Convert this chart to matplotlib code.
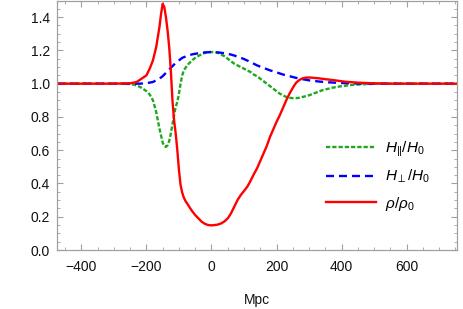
import matplotlib
matplotlib.use("Agg")
import matplotlib.pyplot as plt
from matplotlib.ticker import MultipleLocator

plt.rcParams['font.family'] = ['Liberation Sans', 'DejaVu Sans']
plt.rcParams['mathtext.fontset'] = 'custom'
plt.rcParams['mathtext.rm'] = 'Liberation Sans'
plt.rcParams['mathtext.it'] = 'Liberation Sans:italic'

# ---- data ----
x_rho = [-475, -300, -250, -230, -215, -200, -190, -180, -170, -160, -155, -150, -145, -140,
         -135, -130, -125, -120, -115, -110, -105, -100, -95, -90, -85, -80, -70, -60, -50,
         -40, -30, -20, -10, 0, 10, 20, 30, 40, 50, 60, 70, 80, 90, 100, 110, 120, 130, 140,
         150, 160, 170, 180, 190, 200, 210, 220, 230, 240, 250, 260, 270, 280, 290, 300, 310,
         330, 350, 380, 410, 450, 500, 550, 755]
rho = [1.0, 1.0, 1.002, 1.01, 1.03, 1.05, 1.09, 1.14, 1.22, 1.34, 1.42, 1.48, 1.46, 1.40,
       1.32, 1.22, 1.08, 0.90, 0.78, 0.70, 0.60, 0.48, 0.39, 0.345, 0.315, 0.295, 0.265, 0.235, 0.21,
       0.19, 0.17, 0.157, 0.15, 0.148, 0.15, 0.153, 0.16, 0.172, 0.19, 0.22, 0.26, 0.30, 0.33,
       0.355, 0.38, 0.415, 0.455, 0.49, 0.535, 0.58, 0.625, 0.68, 0.725, 0.77, 0.81, 0.855,
       0.90, 0.94, 0.975, 1.005, 1.022, 1.032, 1.036, 1.037, 1.036, 1.032, 1.027, 1.02,
       1.012, 1.006, 1.002, 1.0, 1.0]

x_hpar = [-475, -280, -250, -230, -215, -200, -190, -180, -170, -160, -150, -145, -140, -135,
          -130, -125, -120, -115, -110, -105, -100, -95, -90, -85, -80, -70, -60, -50, -40,
          -30, -20, -10, 0, 10, 20, 30, 40, 50, 60, 70, 80, 90, 100, 110, 120, 130, 140, 150,
          160, 170, 180, 190, 200, 210, 220, 230, 240, 250, 260, 270, 280, 300, 320, 340, 370,
          400, 430, 470, 520, 755]
hpar = [1.0, 1.0, 0.998, 0.99, 0.975, 0.955, 0.935, 0.90, 0.83, 0.73, 0.645, 0.625, 0.62, 0.63,
        0.655, 0.70, 0.755, 0.81, 0.86, 0.89, 0.94, 1.0, 1.05, 1.08, 1.095, 1.12, 1.14, 1.155,
        1.167, 1.177, 1.185, 1.19, 1.19, 1.19, 1.185, 1.175, 1.165, 1.15, 1.135, 1.12, 1.11,
        1.10, 1.09, 1.08, 1.07, 1.055, 1.045, 1.03, 1.015, 1.0, 0.985, 0.97, 0.955, 0.94, 0.93,
        0.92, 0.915, 0.913, 0.913, 0.915, 0.92, 0.93, 0.945, 0.96, 0.975, 0.985, 0.992, 0.997,
        1.0, 1.0]

x_hperp = [-475, -250, -220, -200, -180, -170, -160, -150, -140, -130, -120, -110, -100, -90,
           -80, -70, -60, -40, -20, 0, 20, 40, 60, 80, 100, 120, 140, 160, 180, 200, 220, 240,
           260, 280, 300, 330, 360, 400, 450, 500, 755]
hperp = [1.0, 1.0, 1.0, 1.003, 1.01, 1.02, 1.03, 1.045, 1.065, 1.085, 1.105, 1.125, 1.14, 1.155,
         1.163, 1.17, 1.176, 1.183, 1.188, 1.19, 1.188, 1.183, 1.175, 1.163, 1.148, 1.13, 1.11,
         1.095, 1.08, 1.068, 1.055, 1.045, 1.035, 1.027, 1.02, 1.013, 1.008, 1.004, 1.001, 1.0, 1.0]

labels = [r'$H_{||}/H_0$', r'$H_{\perp}/H_0$', r'$\rho/\rho_0$']
xlabel = 'Mpc'

# ---- figure ----
fig = plt.figure(figsize=(4.63, 3.09), dpi=100)
ax = fig.add_axes([57/463, 59/309, 400/463, 249.5/309])

lw = 1.7
ax.plot(x_hpar, hpar, color='#1fa81f', lw=lw, dashes=(1.8, 0.85), label=labels[0])
ax.plot(x_hperp, hperp, color='#0000ff', lw=lw, dashes=(3.4, 2.1), label=labels[1])
ax.plot(x_rho, rho, color='#ff0000', lw=lw, label=labels[2])

ax.set_xlim(-475, 755)
ax.set_ylim(0, 1.5)
ax.xaxis.set_major_locator(MultipleLocator(200))
ax.xaxis.set_minor_locator(MultipleLocator(50))
ax.yaxis.set_major_locator(MultipleLocator(0.2))
ax.yaxis.set_minor_locator(MultipleLocator(0.05))
ax.yaxis.set_major_formatter(matplotlib.ticker.FormatStrFormatter('%.1f'))
ax.xaxis.set_major_formatter(matplotlib.ticker.FuncFormatter(lambda v, p: f'{int(v)}'.replace('-', '\u2212')))

gray = '#a0a0a0'
for s in ax.spines.values():
    s.set_color(gray)
    s.set_linewidth(0.9)
ax.tick_params(which='both', direction='in', top=True, right=True, color=gray,
               labelsize=10, labelcolor='#111111')
ax.tick_params(which='major', length=4.5, width=0.8, pad=5)
ax.tick_params(axis='x', which='major', pad=7)
ax.tick_params(which='minor', length=2.5, width=0.6)
ax.set_xlabel(xlabel, fontsize=10, labelpad=14, color='#111111')

ax.legend(loc='upper left', bbox_to_anchor=(0.672, 0.443), frameon=False, fontsize=11,
          handlelength=3.3, handletextpad=0.6, labelspacing=0.6, borderpad=0, borderaxespad=0)

fig.savefig('out.png', dpi=100)
